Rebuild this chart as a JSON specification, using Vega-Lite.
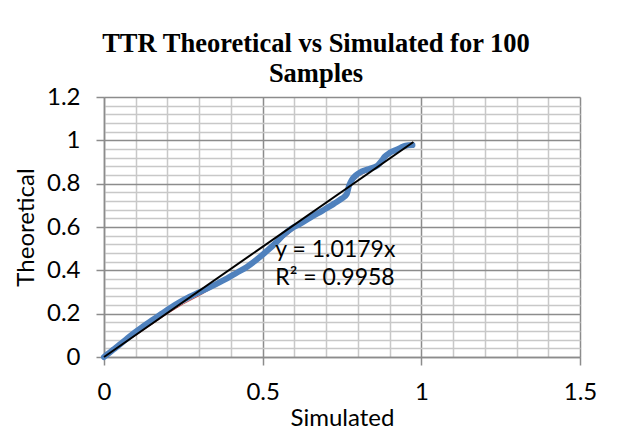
{
  "$schema": "https://vega.github.io/schema/vega-lite/v6.json",
  "autosize": {"type": "none"},
  "width": 476,
  "height": 260,
  "padding": {"left": 104, "top": 97, "right": 41, "bottom": 76},
  "background": "white",
  "title": {
    "text": ["TTR Theoretical vs Simulated for 100", "Samples"],
    "font": "Liberation Serif",
    "fontSize": 26.5,
    "fontWeight": "bold",
    "lineHeight": 30,
    "anchor": "middle",
    "dx": -26,
    "offset": 6,
    "dy": 8,
    "color": "black"
  },
  "config": {
    "view": {"stroke": null},
    "axis": {
      "labelFont": "Lato",
      "labelFontSize": 24,
      "labelColor": "black",
      "titleFont": "Lato",
      "titleFontSize": 24,
      "titleFontWeight": "normal",
      "titleColor": "black",
      "domainColor": "#8c8c8c",
      "domainWidth": 1.5,
      "tickColor": "#8c8c8c",
      "tickWidth": 1.5,
      "tickSize": 8,
      "labelOverlap": false,
      "labelFlush": false,
      "gridWidth": 1.5
    }
  },
  "datasets": {
    "sim": [
      {"x": 0.0, "y": 0.0},
      {"x": 0.01, "y": 0.012},
      {"x": 0.03, "y": 0.035},
      {"x": 0.05, "y": 0.058},
      {"x": 0.07, "y": 0.082},
      {"x": 0.093, "y": 0.109},
      {"x": 0.12, "y": 0.138},
      {"x": 0.15, "y": 0.168},
      {"x": 0.18, "y": 0.198},
      {"x": 0.2, "y": 0.218},
      {"x": 0.24, "y": 0.255},
      {"x": 0.27, "y": 0.278},
      {"x": 0.295, "y": 0.296},
      {"x": 0.32, "y": 0.312},
      {"x": 0.35, "y": 0.334},
      {"x": 0.388, "y": 0.363},
      {"x": 0.42, "y": 0.39},
      {"x": 0.45, "y": 0.415},
      {"x": 0.48, "y": 0.448},
      {"x": 0.514, "y": 0.49},
      {"x": 0.54, "y": 0.525},
      {"x": 0.567, "y": 0.565},
      {"x": 0.59, "y": 0.592},
      {"x": 0.619, "y": 0.615},
      {"x": 0.65, "y": 0.643},
      {"x": 0.69, "y": 0.677},
      {"x": 0.725, "y": 0.708},
      {"x": 0.75, "y": 0.732},
      {"x": 0.765, "y": 0.752},
      {"x": 0.772, "y": 0.79},
      {"x": 0.78, "y": 0.815},
      {"x": 0.795, "y": 0.84},
      {"x": 0.812, "y": 0.856},
      {"x": 0.835, "y": 0.868},
      {"x": 0.862, "y": 0.884},
      {"x": 0.875, "y": 0.905},
      {"x": 0.885, "y": 0.925},
      {"x": 0.9, "y": 0.942},
      {"x": 0.914, "y": 0.952},
      {"x": 0.935, "y": 0.966},
      {"x": 0.95, "y": 0.975},
      {"x": 0.972, "y": 0.978}
    ],
    "red": [
      {"x": 0.0, "y": 0.0},
      {"x": 0.1, "y": 0.1},
      {"x": 0.2, "y": 0.2},
      {"x": 0.25, "y": 0.245},
      {"x": 0.3, "y": 0.283},
      {"x": 0.35, "y": 0.325},
      {"x": 0.4, "y": 0.37},
      {"x": 0.5, "y": 0.47},
      {"x": 0.6, "y": 0.59},
      {"x": 0.7, "y": 0.685},
      {"x": 0.76, "y": 0.745},
      {"x": 0.78, "y": 0.8},
      {"x": 0.8, "y": 0.835},
      {"x": 0.84, "y": 0.862},
      {"x": 0.87, "y": 0.88},
      {"x": 0.9, "y": 0.935},
      {"x": 0.97, "y": 0.975}
    ],
    "trend": [
      {"x": 0.0, "y": 0.0},
      {"x": 0.975, "y": 0.9925}
    ],
    "label": [
      {"x": 0.54, "y": 0.494, "t": "y = 1.0179x"},
      {"x": 0.54, "y": 0.365, "t": "R² = 0.9958"}
    ]
  },
  "encoding": {
    "x": {
      "field": "x",
      "type": "quantitative",
      "scale": {"domain": [0, 1.5], "nice": false, "zero": false},
      "axis": {
        "title": "Simulated",
        "values": [0, 0.1, 0.2, 0.3, 0.4, 0.5, 0.6, 0.7, 0.8, 0.9, 1, 1.1, 1.2, 1.3, 1.4, 1.5],
        "grid": true,
        "gridColor": {"condition": {"test": "abs(datum.value*2-round(datum.value*2))<0.001", "value": "#8c8c8c"}, "value": "#c8c8c8"},
        "tickOpacity": {"condition": {"test": "abs(datum.value*2-round(datum.value*2))<0.001", "value": 1}, "value": 0},
        "labelExpr": "abs(datum.value*2-round(datum.value*2))<0.001 ? format(datum.value,'~g') : ''",
        "labelPadding": 15,
        "titleY": 68,
        "titleBaseline": "alphabetic"
      }
    },
    "y": {
      "field": "y",
      "type": "quantitative",
      "scale": {"domain": [0, 1.2], "nice": false, "zero": false},
      "axis": {
        "title": "Theoretical",
        "values": [0, 0.04, 0.08, 0.12, 0.16, 0.2, 0.24, 0.28, 0.32, 0.36, 0.4, 0.44, 0.48, 0.52, 0.56, 0.6, 0.64, 0.68, 0.72, 0.76, 0.8, 0.84, 0.88, 0.92, 0.96, 1, 1.04, 1.08, 1.12, 1.16, 1.2],
        "grid": true,
        "gridColor": {"condition": {"test": "abs(datum.value*5-round(datum.value*5))<0.001", "value": "#8c8c8c"}, "value": "#c8c8c8"},
        "tickOpacity": {"condition": {"test": "abs(datum.value*5-round(datum.value*5))<0.001", "value": 1}, "value": 0},
        "labelExpr": "abs(datum.value*5-round(datum.value*5))<0.001 ? format(datum.value,'~g') : ''",
        "labelPadding": 16,
        "titleX": -78,
        "titleY": 130,
        "titleAngle": -90,
        "titleAlign": "center",
        "titleBaseline": "middle"
      }
    }
  },
  "layer": [
    {
      "data": {"name": "red"},
      "mark": {"type": "line", "color": "#C0504D", "strokeWidth": 1},
      "encoding": {}
    },
    {
      "data": {"name": "sim"},
      "mark": {"type": "line", "color": "#4F81BD", "strokeWidth": 6, "interpolate": "monotone", "strokeCap": "round"},
      "encoding": {}
    },
    {
      "data": {"name": "trend"},
      "mark": {"type": "line", "color": "black", "strokeWidth": 2},
      "encoding": {}
    },
    {
      "data": {"name": "label"},
      "mark": {"type": "text", "font": "Lato", "fontSize": 23, "align": "left", "baseline": "middle", "color": "black"},
      "encoding": {"text": {"field": "t"}}
    }
  ]
}
